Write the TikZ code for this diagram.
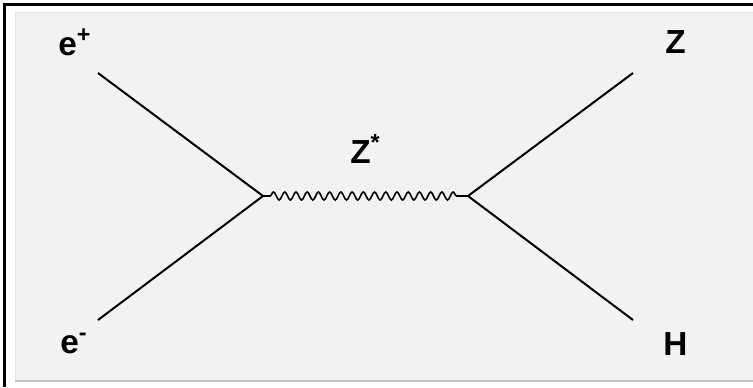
\documentclass[tikz,border=0pt]{standalone}
\usepackage{fontspec}
\setmainfont{Liberation Sans}
\usetikzlibrary{
    decorations.pathmorphing,
    positioning
}
\definecolor{panelgray}{HTML}{F2F2F2}
\definecolor{paneledge}{HTML}{E3E3E3}
\definecolor{panelbottom}{HTML}{C4C4C4}
\tikzset{%
    % Specifications for style of lines and labels:
    fermion/.style = {draw=black, line width=1.5pt},
    boson/.style = {
        draw=black, line width=1.2pt,
        decorate, decoration={snake, segment length=8.42pt, amplitude=3pt,
        pre length=5.25pt, post length=5.25pt}
    },
    particle/.style = {
        font=\fontsize{25}{30}\selectfont\bfseries,
        inner sep=0pt, anchor=base west
    }
}
\begin{document}
\begin{tikzpicture}[x=0.75pt, y=-0.75pt]
\useasboundingbox (0,0) rectangle (753,387);
% frame and panel
\fill[white] (0,0) rectangle (753,387);
\fill[panelgray] (15,12) rectangle (753,380);
\draw[paneledge, line width=0.75pt] (15,380) -- (15,12) -- (753,12);
\draw[panelbottom, line width=1.5pt] (15,380.5) -- (753,380.5);
\draw[black, line width=2.25pt] (4.5,387) -- (4.5,4.5) -- (753,4.5);
% vertices and line ends
\coordinate (vl) at (263,196);
\coordinate (vr) at (468,196);
\coordinate (ep) at (98,73);
\coordinate (em) at (98,320);
\coordinate (zo) at (633,73);
\coordinate (ho) at (633,320);
% labels
\node[particle] (lep) at (58,55) {e\textsuperscript{+}};
\node[particle] (lem) at (60,353) {e\textsuperscript{-}};
\node[particle] (lz) at (665,53) {Z};
\node[particle] (lh) at (663,355) {H};
\node[particle] (lzs) at (350,163) {Z\textsuperscript{*}};
% lines
\draw[fermion] (ep) -- (vl);
\draw[fermion] (em) -- (vl);
\draw[fermion] (vr) -- (zo);
\draw[fermion] (vr) -- (ho);
\draw[boson] (vl) -- (vr);
\end{tikzpicture}
\end{document}
